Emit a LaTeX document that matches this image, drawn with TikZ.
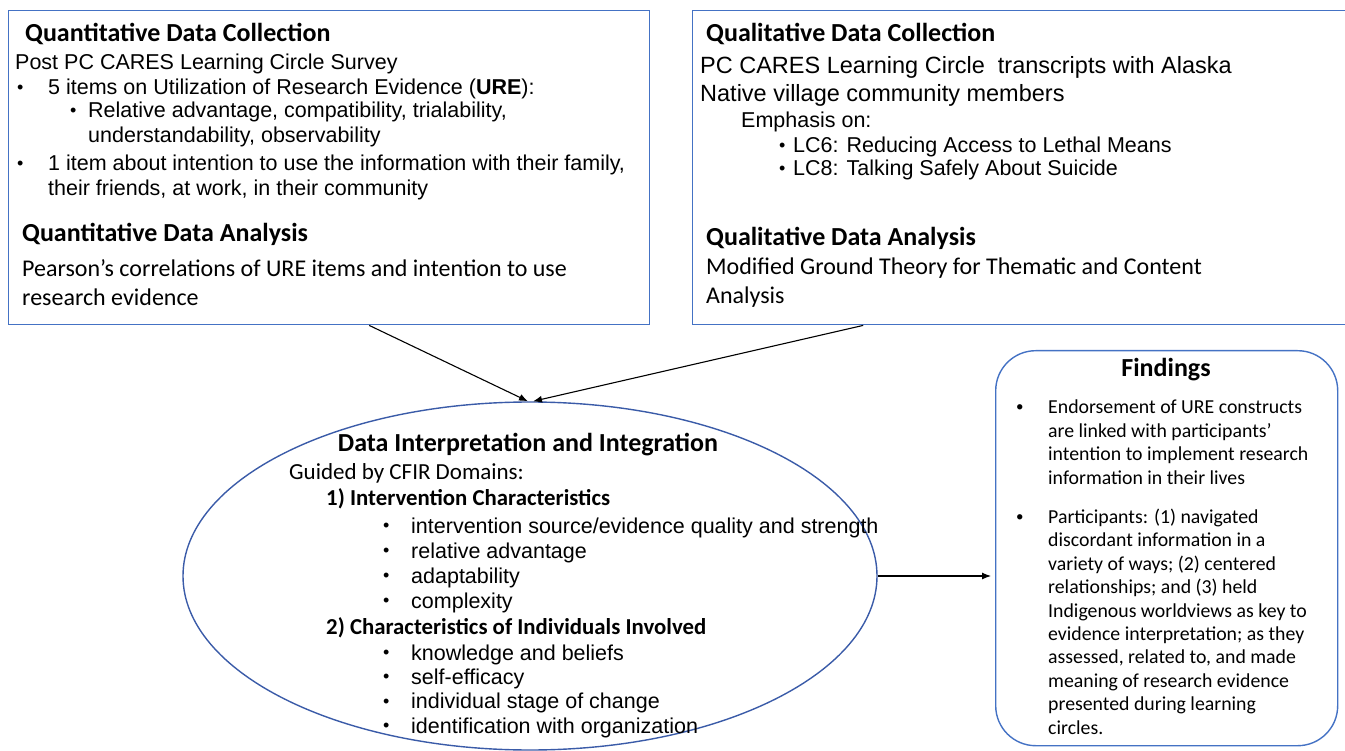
\documentclass[tikz,border=0pt]{standalone}
\usepackage{fontspec}
\setmainfont{Liberation Sans}
\newfontfamily\calfont{Carlito}
\usetikzlibrary{shapes.geometric,arrows.meta,positioning}
\definecolor{panelblue}{HTML}{4472C4}
\definecolor{ovalblue}{HTML}{3A5BA8}
\newcommand{\smalldot}{{\fontsize{18}{18}\selectfont\raisebox{1.5pt}{•}}}
\newcommand{\finddot}{{\fontsize{15}{15}\selectfont\raisebox{2pt}{•}}}

\tikzset{
  panel/.style={draw=panelblue, line width=1.4pt, inner sep=0pt},
  oval/.style={ellipse, draw=ovalblue, line width=1.4pt, inner sep=0pt},
  arr/.style={-{Latex[length=9pt,width=7pt]}, line width=1.1pt},
  txt/.style={anchor=base west, inner sep=0pt, align=left},
  heading/.style={txt, font=\calfont\bfseries\fontsize{26}{30}\selectfont},
  subhead/.style={txt, font=\calfont\bfseries\fontsize{22.8}{26}\selectfont},
  arial/.style={txt, font=\fontsize{21.5}{25}\selectfont},
  calib/.style={txt, font=\calfont\fontsize{24}{29}\selectfont},
  findtxt/.style={txt, font=\calfont\fontsize{19.8}{23.4}\selectfont},
}

\begin{document}
\begin{tikzpicture}[x=1pt,y=-1pt]
\useasboundingbox (0,0) rectangle (1345,751);
% Kaesten
\node[panel, minimum width=641pt, minimum height=314pt, anchor=north west] (quan) at (8,10) {};
\node[panel, minimum width=665pt, minimum height=314pt, anchor=north west] (qual) at (692,10) {};
\node[oval, minimum width=694pt, minimum height=348pt] (integ) at (530,576) {};
\node[panel, rounded corners=40pt, minimum width=342pt, minimum height=395pt, anchor=north west] (find) at (995,350) {};

% quantitativ (mehrzeilige Knoten: base = letzte Zeile)
\node[heading] (qnHead) at (25,42) {Quantitative Data Collection};
\node[arial] (qnSurvey) at (15,70) {Post PC CARES Learning Circle Survey};
\node[arial] (qnDotA) at (17,95) {\smalldot};
\node[arial] (qnItemA) at (48,95) {5 items on Utilization of Research Evidence (\textbf{URE}):};
\node[arial] (qnDotB) at (70,118) {\smalldot};
\node[arial] (qnSub) at (88,143) {Relative advantage, compatibility, trialability,\\understandability, observability};
\node[arial] (qnDotC) at (17,171) {\smalldot};
\node[arial] (qnItemB) at (48,196) {1 item about intention to use the information with their family,\\their friends, at work, in their community};
\node[heading] (qnAnHead) at (22,242) {Quantitative Data Analysis};
\node[calib] (qnAnText) at (22,306) {Pearson’s correlations of URE items and intention to use\\research evidence};

% qualitativ
\node[heading] (qlHead) at (706,42) {Qualitative Data Collection};
\node[arial, font=\fontsize{23.5}{28}\selectfont] (qlText) at (700,102) {PC CARES Learning Circle \ transcripts with Alaska\\Native village community members};
\node[arial] (qlEmph) at (741,128) {Emphasis on:};
\node[arial] (qlDotA) at (779,153) {\smalldot};
\node[arial] (qlLCsix) at (793,153) {LC6: Reducing Access to Lethal Means};
\node[arial] (qlDotB) at (779,176) {\smalldot};
\node[arial] (qlLCeight) at (793,176) {LC8: Talking Safely About Suicide};
\node[heading] (qlAnHead) at (706,246) {Qualitative Data Analysis};
\node[calib] (qlAnText) at (706,304) {Modified Ground Theory for Thematic and Content\\Analysis};

% Integration
\node[heading, anchor=base] (inHead) at (528,451) {Data Interpretation and Integration};
\node[calib, font=\calfont\fontsize{23}{28}\selectfont] (inGuide) at (289,479) {Guided by CFIR Domains:};
\node[subhead] (inDomA) at (326,505) {1) Intervention Characteristics};
\node[arial] (inDotsA) at (383,608) {\smalldot\\\smalldot\\\smalldot\\\smalldot};
\node[arial] (inListA) at (411,608) {intervention source/evidence quality and strength\\relative advantage\\adaptability\\complexity};
\node[subhead] (inDomB) at (326,634) {2) Characteristics of Individuals Involved};
\node[arial, font=\fontsize{21.5}{24.3}\selectfont] (inDotsB) at (383,733) {\smalldot\\\smalldot\\\smalldot\\\smalldot};
\node[arial, font=\fontsize{21.5}{24.3}\selectfont] (inListB) at (411,733) {knowledge and beliefs\\self-efficacy\\individual stage of change\\identification with organization};

% Ergebnisse
\node[heading, anchor=base] (fnHead) at (1166,377) {Findings};
\node[findtxt] (fnDotA) at (1016,414) {\finddot};
\node[findtxt] (fnTextA) at (1048,484) {Endorsement of URE constructs\\are linked with participants’\\intention to implement research\\information in their lives};
\node[findtxt] (fnDotB) at (1016,523) {\finddot};
\node[findtxt] (fnTextB) at (1048,734) {Participants: (1) navigated\\discordant information in a\\variety of ways; (2) centered\\relationships; and (3) held\\Indigenous worldviews as key to\\evidence interpretation; as they\\assessed, related to, and made\\meaning of research evidence\\presented during learning\\circles.};

% Pfeile
\draw[arr] ([xshift=40pt]quan.south) -- ([xshift=-2pt]integ.north);
\draw[arr] ([xshift=-162pt]qual.south) -- ([xshift=3pt]integ.north);
\draw[arr, shorten >=4pt] (integ.east) -- (integ.east -| find.west);
\end{tikzpicture}
\end{document}
